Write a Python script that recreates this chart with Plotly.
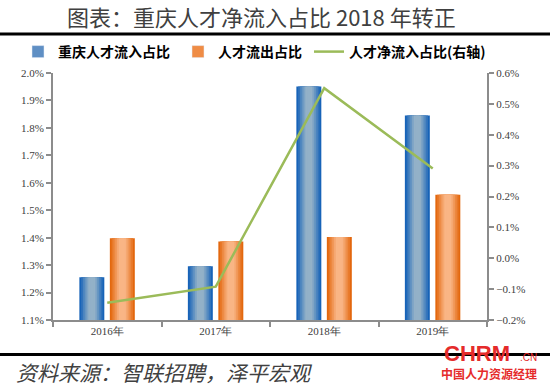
import plotly.graph_objects as go

years = ["2016年", "2017年", "2018年", "2019年"]
inflow = [1.256, 1.296, 1.951, 1.845]    # 重庆人才流入占比 (%)
outflow = [1.398, 1.386, 1.402, 1.556]   # 人才流出占比 (%)
net = [-0.144, -0.092, 0.551, 0.291]     # 人才净流入占比 (%) right axis

L, R, T, B = 53, 63, 73, 70
W, H = 550, 390
pw, ph = W - L - R, H - T - B

def px(x):
    return (x - L) / pw

def py(y):
    return (H - B - y) / ph

def lerp(c1, c2, t):
    a = [int(c1[i:i + 2], 16) for i in (1, 3, 5)]
    b = [int(c2[i:i + 2], 16) for i in (1, 3, 5)]
    return "#" + "".join(f"{round(a[k] + (b[k] - a[k]) * t):02x}" for k in range(3))

fig = go.Figure()

bar_w = 0.23
layers = 7
series = [
    ("重庆人才流入占比", inflow, -0.142, "#1763b8", "#93b1c8", "#5f8fc4", "legend"),
    ("人才流出占比", outflow, 0.139, "#e3680f", "#f9b585", "#ef8c45", "legend2"),
]
for name, vals, off, edge, center, legc, lg in series:
    for k in range(layers):
        t = k / (layers - 1)
        w = bar_w * (1 - 0.86 * t)
        col = lerp(edge, center, min(1.0, t * 1.25))
        fig.add_trace(go.Bar(
            x=years, y=vals, name=name,
            width=w, offset=off - w / 2,
            marker=dict(color=col, line=dict(width=0)),
            showlegend=False, legendgroup=name,
        ))
    fig.add_trace(go.Bar(
        x=[years[0]], y=[None], name=name, marker=dict(color=legc),
        showlegend=True, legendgroup=name, legend=lg,
    ))

fig.add_trace(go.Scatter(
    x=years, y=net, name="人才净流入占比(右轴)", yaxis="y2",
    mode="lines", line=dict(color="#9bbb59", width=2.5),
    legend="legend3",
))

tickfont = dict(family="Liberation Serif, Times New Roman, serif", size=11, color="#404040")
legfont = dict(family="Noto Sans CJK SC", size=14, color="#000000", weight="bold")

def leg(xpix):
    return dict(
        orientation="h", xref="container", yref="container",
        x=xpix / W, xanchor="left", y=1 - 52 / H, yanchor="middle",
        font=legfont, bgcolor="rgba(0,0,0,0)", itemwidth=30,
    )

fig.update_layout(
    width=W, height=H,
    margin=dict(l=L, r=R, t=T, b=B, autoexpand=False),
    paper_bgcolor="white", plot_bgcolor="white",
    barmode="overlay",
    showlegend=True,
    legend=leg(18),
    legend2=leg(178),
    legend3=leg(309),
    xaxis=dict(
        type="category", showgrid=False, zeroline=False,
        showline=True, linecolor="#8c8c8c", linewidth=2,
        ticks="outside", tickson="boundaries", ticklen=5, tickcolor="#8c8c8c", tickwidth=1.5,
        tickfont=tickfont, range=[-0.5, 3.5], automargin=False,
    ),
    yaxis=dict(
        range=[1.1, 2.0], dtick=0.1, tick0=1.1, tickformat=".1f", ticksuffix="%",
        showgrid=False, zeroline=False,
        showline=True, linecolor="#8c8c8c", linewidth=2,
        ticks="outside", ticklen=5, tickcolor="#8c8c8c", tickwidth=1.5,
        tickfont=tickfont, automargin=False,
    ),
    yaxis2=dict(
        overlaying="y", side="right",
        range=[-0.2, 0.6], dtick=0.1, tick0=-0.2, tickformat=".1f", ticksuffix="%",
        showgrid=False, zeroline=False,
        showline=True, linecolor="#8c8c8c", linewidth=2,
        ticks="outside", ticklen=5, tickcolor="#8c8c8c", tickwidth=1.5,
        tickfont=tickfont, automargin=False,
    ),
    shapes=[
        dict(type="line", xref="paper", yref="paper", x0=px(0), x1=px(W),
             y0=py(34), y1=py(34), line=dict(color="black", width=3)),
        dict(type="line", xref="paper", yref="paper", x0=px(0), x1=px(W),
             y0=py(354.5), y1=py(354.5), line=dict(color="black", width=3)),
    ],
    annotations=[
        dict(text="图表：重庆人才净流入占比 2018 年转正", xref="paper", yref="paper",
             x=px(261), y=py(16), xanchor="center", yanchor="middle", showarrow=False,
             font=dict(family="Noto Sans CJK SC", size=22, color="#404040")),
        dict(text="<i>资料来源：智联招聘，泽平宏观</i>", xref="paper", yref="paper",
             x=px(14), y=py(372), xanchor="left", yanchor="middle", showarrow=False,
             font=dict(family="Noto Sans CJK SC", size=21, color="#404040")),
        dict(text="<b>CHRM</b>", xref="paper", yref="paper",
             x=px(477), y=py(353), xanchor="center", yanchor="middle", showarrow=False,
             font=dict(family="Liberation Sans, Arial", size=22, color="#e52b2b")),
        dict(text=".CN", xref="paper", yref="paper",
             x=px(528), y=py(357), xanchor="center", yanchor="middle", showarrow=False,
             font=dict(family="Liberation Sans, Arial", size=10, color="#e52b2b")),
        dict(text="中国人力资源经理", xref="paper", yref="paper",
             x=px(489), y=py(373), xanchor="center", yanchor="middle", showarrow=False,
             font=dict(family="Noto Sans CJK SC", size=12, color="#e52b2b", weight="bold")),
    ],
)

fig.write_html(
    "out.html",
    config={"displayModeBar": False},
    post_script="document.body.style.margin='0px';document.body.style.overflow='hidden';",
)
